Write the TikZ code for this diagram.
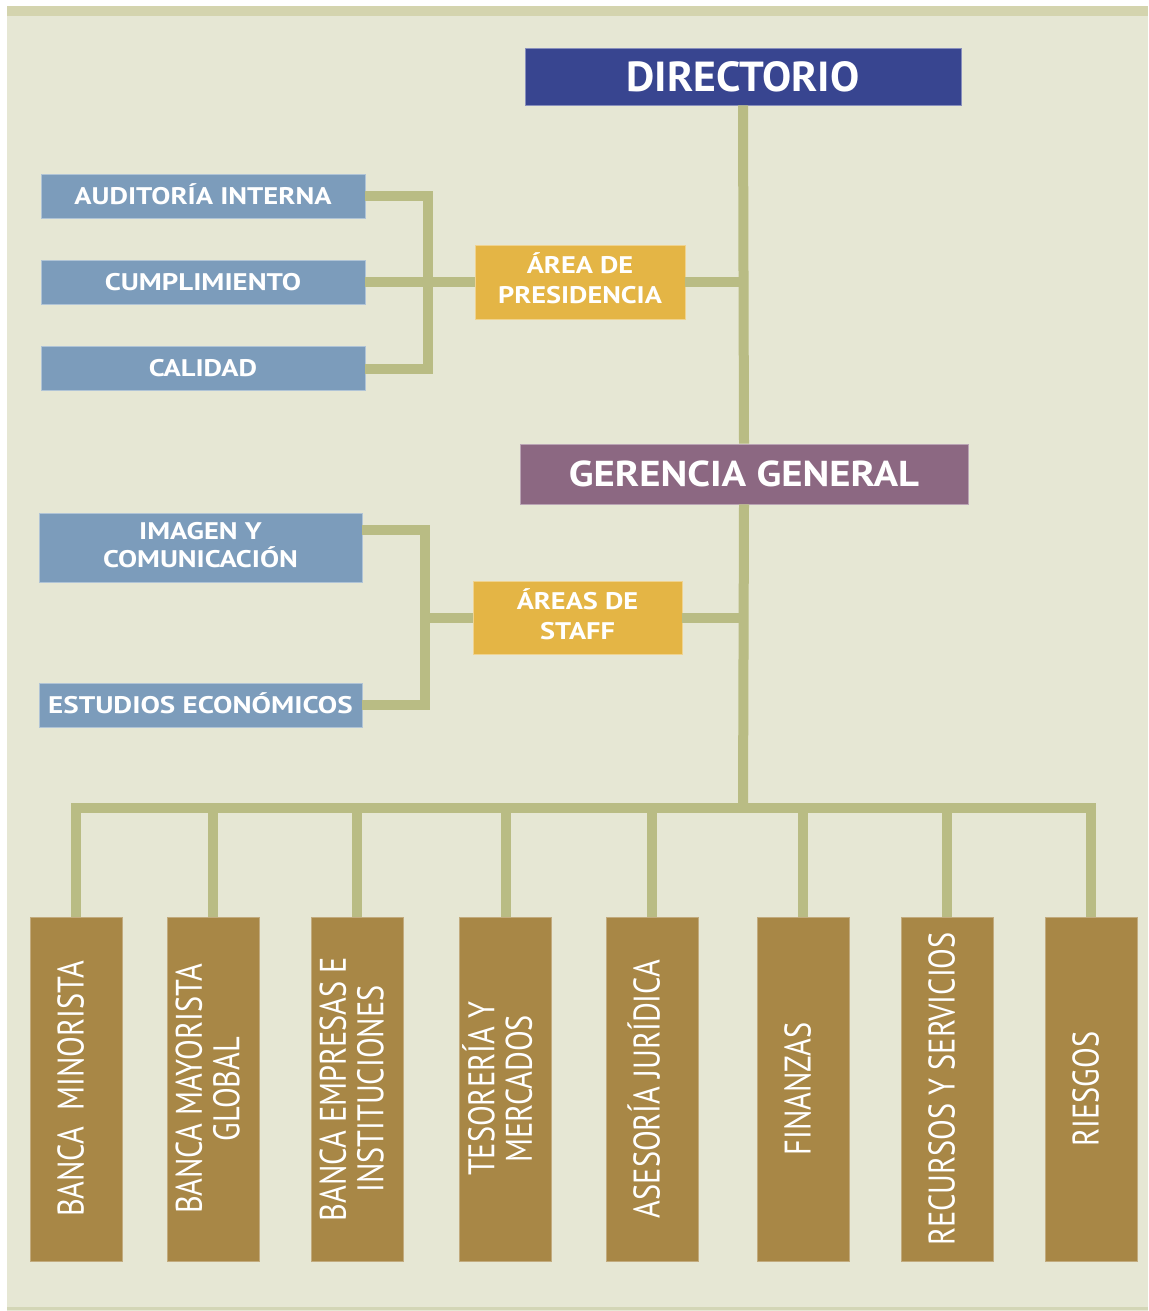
\documentclass[tikz,border=0pt]{standalone}
\usepackage{fontspec}
\setmainfont{PT Sans}
\usepackage{graphicx}
\definecolor{cpanel}{HTML}{E6E7D4}
\definecolor{cstrip}{HTML}{D4D4AE}
\definecolor{cbottom}{HTML}{D3D6B6}
\definecolor{cline}{HTML}{B9BC84}
\definecolor{cdir}{HTML}{384590}
\definecolor{cger}{HTML}{8C6882}
\definecolor{carea}{HTML}{E4B545}
\definecolor{cblue}{HTML}{7C9CBB}
\definecolor{cbrown}{HTML}{A88746}
\newcommand\vlabel[1]{\rotatebox{90}{\scalebox{0.82}[1]{\begin{tabular}{@{}c@{}}#1\end{tabular}}}}
\newcommand\wide[2]{\scalebox{#1}[1]{#2}}
\newcommand\widetwo[2]{\scalebox{#1}[1]{\raisebox{-4.5pt}{\begin{tabular}{@{}c@{}}#2\end{tabular}}}}
\begin{document}
\begin{tikzpicture}[x=1pt,y=-1pt,
  box/.style={rectangle, inner sep=0pt, text=white, align=center},
  dirbox/.style={box, fill=cdir, draw=cdir!60!white, line width=0.8pt, minimum width=436, minimum height=57, font=\bfseries\fontsize{42}{48}\selectfont},
  gerbox/.style={box, fill=cger, draw=cger!60!white, line width=0.8pt, minimum width=448, minimum height=60, font=\bfseries\fontsize{36}{42}\selectfont},
  areabox/.style={box, fill=carea, draw=carea!60!white, line width=0.6pt, minimum width=209, minimum height=74, font=\bfseries\fontsize{24}{30}\selectfont},
  bluebox/.style={box, fill=cblue, draw=cblue!60!white, line width=0.6pt, minimum width=324, minimum height=44, font=\bfseries\fontsize{24}{28}\selectfont},
  brownbox/.style={box, fill=cbrown, draw=cbrown!70!white, line width=0.6pt, minimum width=92, minimum height=344, font=\fontsize{37}{37}\selectfont},
  conn/.style={draw=cline, line width=10pt, line join=miter}
]
\useasboundingbox (0,0) rectangle (1148,1311);
% background panel
\fill[cpanel] (7,6) rectangle (1148,1311);
\fill[cstrip] (7,6) rectangle (1148,16);
\fill[cbottom] (7,1307) rectangle (1148,1310);

% top nodes
\node[dirbox] (dir) at (743,76.5) {\wide{1.04}{DIRECTORIO}};
\node[gerbox] (ger) at (744,474) {\wide{1.13}{GERENCIA GENERAL}};

\node[bluebox] (aud) at (203,196) {\wide{1.19}{AUDITOR\smash{Í}A INTERNA}};
\node[bluebox] (cum) at (203,282) {\wide{1.2}{CUMPLIMIENTO}};
\node[bluebox] (cal) at (203,368.5) {\wide{1.19}{CALIDAD}};
\node[areabox, minimum width=210] (pres) at (580,282) {\widetwo{1.18}{\smash{Á}REA DE\\PRESIDENCIA}};

\node[bluebox, minimum width=323, minimum height=69] (img) at (200.5,547.5) {\widetwo{1.19}{IMAGEN Y\\COMUNICACI\smash{Ó}N}};
\node[bluebox, minimum width=323] (est) at (200.5,705) {\wide{1.21}{ESTUDIOS ECON\smash{Ó}MICOS}};
\node[areabox, minimum height=73] (staff) at (577.5,618) {\widetwo{1.18}{\smash{Á}REAS DE\\STAFF}};

% bottom nodes
\node[brownbox] (bb1) at (76,1089) {\vlabel{BANCA~ MINORISTA}};
\node[brownbox] (bb2) at (213,1089) {\vlabel{BANCA MAYORISTA\\GLOBAL}};
\node[brownbox] (bb3) at (357,1089) {\vlabel{BANCA EMPRESAS E\\INSTITUCIONES}};
\node[brownbox] (bb4) at (505.5,1089) {\vlabel{TESORER\smash{Í}A Y\\MERCADOS}};
\node[brownbox] (bb5) at (652,1089) {\vlabel{ASESOR\smash{Í}A JUR\smash{Í}DICA}};
\node[brownbox] (bb6) at (803,1089) {\vlabel{FINANZAS}};
\node[brownbox] (bb7) at (947,1089) {\vlabel{RECURSOS Y SERVICIOS}};
\node[brownbox] (bb8) at (1091,1089) {\vlabel{RIESGOS}};

% connectors
\coordinate (bus) at (743,808);
\coordinate (b1) at (428,282);
\coordinate (b2) at (425,618);

\draw[conn] (dir.south) -- (ger.north);
\draw[conn] (ger.south) -- (bus);
\draw[conn] (pres.east) -- (pres.east -| dir.south);
\draw[conn] (staff.east) -- (staff.east -| ger.south);

\draw[conn] (aud.east) -| (b1) |- (cal.east);
\draw[conn] (cum.east) -- (pres.west);

\draw[conn] (img.north east) ++(0,17) -| (b2) |- (est.east);
\draw[conn] (b2) -- (staff.west);

\draw[conn] (bb1.north) |- (bus) -| (bb8.north);
\foreach \k in {2,...,7} {
  \draw[conn] (bb\k.north) -- (bb\k.north |- bus);
}
\end{tikzpicture}
\end{document}
